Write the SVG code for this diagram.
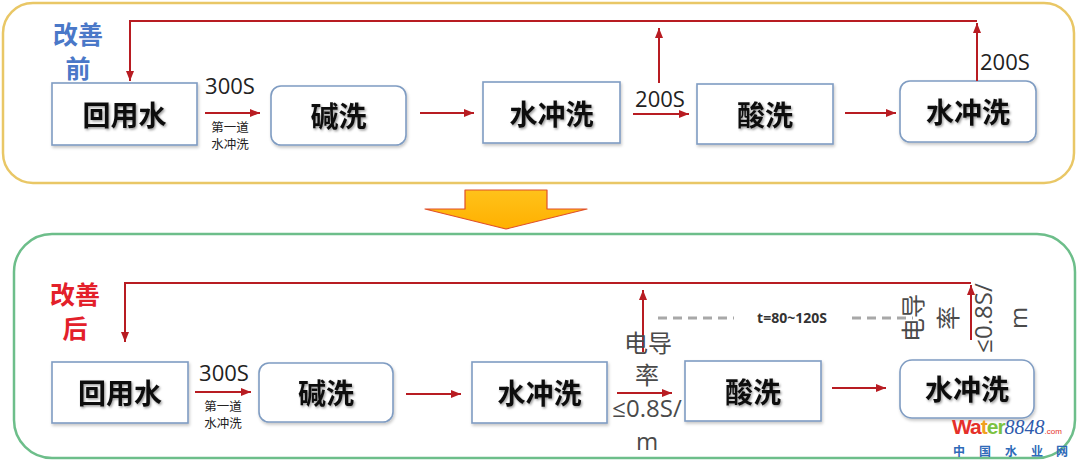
<svg xmlns="http://www.w3.org/2000/svg" width="1080" height="465" viewBox="0 0 1080 465">
<style>
.panel{fill:#fff;stroke-width:2.5}
.box{fill:#fff;stroke:#7f9cc2;stroke-width:1.6;filter:url(#bsh)}
.nt{font-family:"Noto Sans CJK SC","Noto Sans",sans-serif;font-weight:700;font-size:28px;fill:#111;text-anchor:middle;dominant-baseline:central;filter:url(#tsh)}
.ln{fill:none;stroke:#b81c22;stroke-width:2}
.arr{marker-end:url(#ah)}
.lat{font-family:"Open Sans","Liberation Sans",sans-serif;font-size:22px;fill:#222}
.sm{font-family:"Noto Sans CJK SC",serif;font-size:12.5px;fill:#222;text-anchor:middle}
.cond{font-family:"Open Sans","Noto Sans CJK SC",sans-serif;font-size:24px;fill:#4a4a4a;text-anchor:middle}
.ttl{font-family:"Noto Sans CJK SC",sans-serif;font-weight:700;font-size:25px;text-anchor:middle}
.dash{stroke:#a8a8a8;stroke-width:3;stroke-dasharray:9 6;fill:none}
</style>
<defs>
<marker id="ah" markerUnits="userSpaceOnUse" markerWidth="11" markerHeight="9" refX="10" refY="4" orient="auto">
<path d="M0,0 L10,4 L0,8 Z" fill="#b81c22"/>
</marker>
<filter id="tsh" x="-20%" y="-20%" width="140%" height="150%">
<feDropShadow dx="1.2" dy="1.5" stdDeviation="1" flood-color="#000" flood-opacity="0.4"/>
</filter>
<filter id="bsh" x="-10%" y="-10%" width="120%" height="130%">
<feDropShadow dx="1" dy="2" stdDeviation="1.5" flood-color="#000" flood-opacity="0.22"/>
</filter>
<linearGradient id="yg" x1="0" y1="0" x2="0" y2="1">
<stop offset="0" stop-color="#ffc21a"/>
<stop offset="1" stop-color="#ffb000"/>
</linearGradient>
</defs>

<g id="panel-before">
<rect class="panel" x="3" y="3" width="1071" height="180" rx="30" stroke="#e9c766"/>
<text class="ttl" fill="#4a78c8" x="78" y="44">改善</text>
<text class="ttl" fill="#4a78c8" x="78" y="78">前</text>
</g>

<g id="panel-after">
<rect class="panel" x="14" y="234" width="1061" height="224" rx="38" stroke="#6dbe8a"/>
<text class="ttl" fill="#e3202a" x="75" y="304">改善</text>
<text class="ttl" fill="#e3202a" x="75" y="338">后</text>
</g>

<g id="transition-arrow">
<polygon points="465,190 547,190 547,209 587,209 506,229 425,209 465,209" fill="url(#yg)" stroke="#e0502a" stroke-width="1.2" stroke-linejoin="round"/>
</g>

<!-- top row nodes -->
<g id="t-huiyongshui"><rect class="box" x="52" y="83" width="145" height="62"/><text class="nt" x="124.5" y="114">回用水</text></g>
<g id="t-jianxi"><rect class="box" x="271" y="86" width="135" height="59" rx="10"/><text class="nt" x="338.5" y="115">碱洗</text></g>
<g id="t-shuichongxi1"><rect class="box" x="483" y="82" width="137" height="61"/><text class="nt" x="551.5" y="113">水冲洗</text></g>
<g id="t-suanxi"><rect class="box" x="697" y="84" width="136" height="60"/><text class="nt" x="765" y="114">酸洗</text></g>
<g id="t-shuichongxi2"><rect class="box" x="900" y="81" width="136" height="61" rx="10"/><text class="nt" x="968" y="111">水冲洗</text></g>

<!-- bottom row nodes -->
<g id="b-huiyongshui"><rect class="box" x="52" y="362" width="136" height="61"/><text class="nt" x="120" y="392">回用水</text></g>
<g id="b-jianxi"><rect class="box" x="259" y="363" width="134" height="59" rx="10"/><text class="nt" x="326" y="392">碱洗</text></g>
<g id="b-shuichongxi1"><rect class="box" x="472" y="362" width="135" height="61"/><text class="nt" x="539.5" y="392">水冲洗</text></g>
<g id="b-suanxi"><rect class="box" x="685" y="361" width="136" height="60"/><text class="nt" x="753" y="391">酸洗</text></g>
<g id="b-shuichongxi2"><rect class="box" x="900" y="360" width="134" height="58" rx="12"/><text class="nt" x="967" y="388">水冲洗</text></g>

<g id="connectors">
<!-- top -->
<line class="ln arr" x1="205" y1="113" x2="260" y2="113"/>
<line class="ln arr" x1="420" y1="113" x2="474" y2="113"/>
<line class="ln arr" x1="633" y1="114" x2="689" y2="114"/>
<line class="ln arr" x1="845" y1="113" x2="896" y2="113"/>
<line class="ln arr" x1="659" y1="83" x2="659" y2="28"/>
<line class="ln arr" x1="977" y1="81" x2="977" y2="23"/>
<path class="ln arr" d="M977,21 H130 V81"/>
<!-- bottom -->
<line class="ln arr" x1="195" y1="392" x2="251" y2="392"/>
<line class="ln arr" x1="406" y1="394" x2="461" y2="394"/>
<line class="ln arr" x1="617" y1="393" x2="672" y2="393"/>
<line class="ln arr" x1="832" y1="388" x2="886" y2="388"/>
<line class="ln arr" x1="643" y1="352" x2="643" y2="290"/>
<line class="ln arr" x1="971" y1="340" x2="971" y2="285"/>
<path class="ln arr" d="M971,283 H125 V342"/>
<line class="dash" x1="658" y1="318" x2="734" y2="318"/>
<line class="dash" x1="852" y1="318" x2="913" y2="318"/>
</g>

<g id="labels">
<text class="lat" x="230" y="94" text-anchor="middle">300S</text>
<text class="sm" x="230" y="132">第一道</text>
<text class="sm" x="230" y="149">水冲洗</text>
<text class="lat" x="660" y="107" text-anchor="middle">200S</text>
<text class="lat" x="980" y="70">200S</text>

<text class="lat" x="224" y="381" text-anchor="middle">300S</text>
<text class="sm" x="223" y="411">第一道</text>
<text class="sm" x="223" y="428">水冲洗</text>

<text x="792" y="323" font-family="'Open Sans','Liberation Sans',sans-serif" font-weight="700" font-size="14" fill="#333" text-anchor="middle">t=80~120S</text>

<text class="cond" x="648" y="352">电导</text>
<text class="cond" x="647" y="384">率</text>
<text class="cond" x="647" y="417">≤0.8S/</text>
<text class="cond" x="647" y="450">m</text>

<text class="cond" transform="translate(922,318) rotate(-90)">电导</text>
<text class="cond" transform="translate(957,318) rotate(-90)">率</text>
<text class="cond" transform="translate(992,318) rotate(-90)">≤0.8S/</text>
<text class="cond" transform="translate(1027,318) rotate(-90)">m</text>
</g>

<g id="watermark">
<text x="952" y="434" font-family="'Liberation Sans',sans-serif" font-weight="700" font-size="21" letter-spacing="-1"><tspan fill="#e5302a">Wa</tspan><tspan fill="#f0a020">t</tspan><tspan fill="#7cc242">er</tspan><tspan fill="#2e5aac" font-family="'Liberation Serif',serif" font-style="italic" font-weight="400" font-size="20" letter-spacing="0">8848</tspan><tspan fill="#e5302a" font-size="8" font-weight="400" letter-spacing="0">.com</tspan></text>
<text x="953 979 1005 1031 1056" y="456" font-family="'Noto Sans CJK SC',sans-serif" font-weight="700" font-size="12" fill="#2e6ab8">中国水业网</text>
</g>
</svg>
